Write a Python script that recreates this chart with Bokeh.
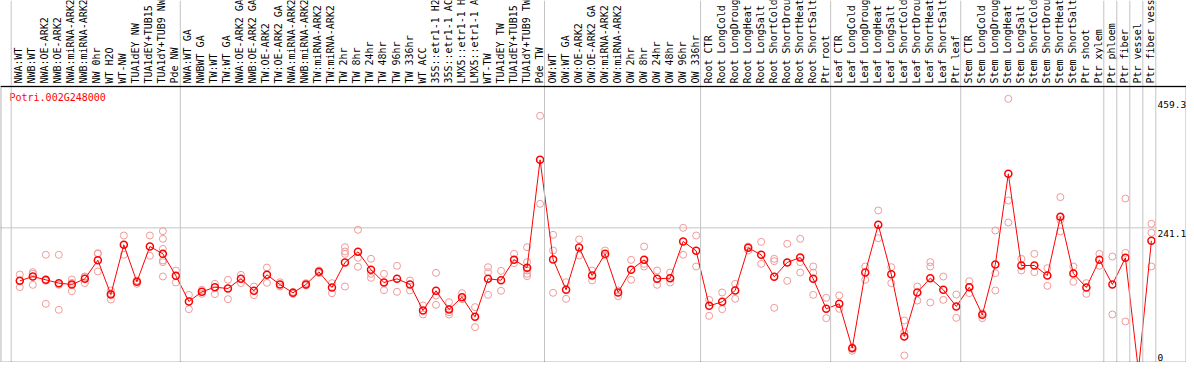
import math
from bokeh.plotting import figure
from bokeh.models import Range1d, Span, BoxAnnotation
from bokeh.core.properties import value
from bokeh.embed import file_html
from bokeh.resources import INLINE

gene = "Potri.002G248000"

samples = [
    "NWA:WT", "NWB:WT", "NWA:OE-ARK2", "NWB:OE-ARK2", "NWA:miRNA-ARK2", "NWB:miRNA-ARK2",
    "NW 0hr", "WT H2O", "WT-NW", "TUA1dEY NW", "TUA1dEY+TUB15 NW", "TUA1dY+TUB9 NW", "Pde NW",
    "NWA:WT GA", "NWBWT GA", "TW:WT", "TW:WT GA", "NWA:OE-ARK2 GA", "NWB:OE-ARK2 GA",
    "TW:OE-ARK2", "TW:OE-ARK2 GA", "NWA:miRNA-ARK2 GA", "NWB:miRNA-ARK2 GA", "TW:miRNA-ARK2",
    "TW:miRNA-ARK2 GA", "TW 2hr", "TW 8hr", "TW 24hr", "TW 48hr", "TW 96hr", "TW 336hr", "WT ACC",
    "35S::etr1-1 H2O", "35S::etr1-1 ACC", "LMX5::etr1-1 H2O", "LMX5::etr1-1 ACC", "WT-TW",
    "TUA1dEY TW", "TUA1dEY+TUB15 TW", "TUA1dY+TUB9 TW", "Pde TW",
    "OW:WT", "OW:WT GA", "OW:OE-ARK2", "OW:OE-ARK2 GA", "OW:miRNA-ARK2", "OW:miRNA-ARK2 GA",
    "OW 2hr", "OW 8hr", "OW 24hr", "OW 48hr", "OW 96hr", "OW 336hr",
    "Root CTR", "Root LongCold", "Root LongDrought", "Root LongHeat", "Root LongSalt",
    "Root ShortCold", "Root ShortDrought", "Root ShortHeat", "Root ShortSalt", "Ptr root",
    "Leaf CTR", "Leaf LongCold", "Leaf LongDrought", "Leaf LongHeat", "Leaf LongSalt",
    "Leaf ShortCold", "Leaf ShortDrought", "Leaf ShortHeat", "Leaf ShortSalt", "Ptr leaf",
    "Stem CTR", "Stem LongCold", "Stem LongDrought", "Stem LongHeat", "Stem LongSalt",
    "Stem ShortCold", "Stem ShortDrought", "Stem ShortHeat", "Stem ShortSalt", "Ptr shoot",
    "Ptr xylem", "Ptr phloem", "Ptr fiber", "Ptr vessel", "Ptr fiber vessel",
]

group_sizes = [13, 28, 12, 10, 10, 11, 1, 1, 1, 1]

means = [
    151.6, 158.9, 153.3, 147.7, 145.4, 155.0, 186.5, 128.5, 212.5, 149.9, 209.6, 197.2, 160.1,
    116.7, 133.0, 140.9, 138.6, 155.0, 134.7, 161.7, 145.4, 131.3, 145.4, 166.8, 140.3, 182.6,
    200.6, 170.2, 148.8, 155.0, 145.4, 101.4, 134.7, 103.1, 124.0, 90.7, 155.0, 152.7, 187.1,
    173.6, 356.2,
    187.7, 136.4, 208.0, 160.6, 197.2, 131.9, 170.2, 187.1, 155.0, 156.1, 218.1, 202.3,
    109.3, 116.1, 135.3, 207.4, 195.6, 158.4, 182.6, 191.1, 155.0, 104.3,
    112.7, 37.8, 165.7, 246.3, 162.9, 57.5, 131.9, 156.1, 136.4, 108.2,
    140.9, 94.1, 179.2, 332.5, 177.5, 177.5, 160.6, 259.8, 164.0, 140.3, 187.1,
    145.4, 190.5, 0.0, 219.2,
]

replicates = [
    [162.3, 151.6, 140.9], [166.3, 163.4, 144.8], [195.6, 151.6, 112.7], [195.6, 144.9, 102.6],
    [153.9, 148.2, 134.1], [158.9, 158.4, 147.7], [198.4, 197.2, 167.4], [135.3, 130.2, 120.0],
    [228.2, 195.6], [152.2, 146.5], [228.2, 193.9], [235.6, 222.6, 205.7, 186.0, 183.2, 158.9],
    [169.1, 148.8],
    [127.9, 103.7], [136.4, 129.6], [146.5, 129.1], [153.3, 120.6], [161.7, 147.7],
    [142.0, 127.4], [174.1, 148.2], [149.3, 142.0], [133.0, 129.6], [147.7, 143.7],
    [169.1, 164.6], [147.7, 130.7], [208.5, 201.2, 197.2, 142.0], [237.8, 190.5, 175.3],
    [188.8, 163.4, 156.7], [163.4, 135.8], [177.0, 133.0], [152.2, 135.3], [109.9, 94.7],
    [165.1, 126.8, 111.0], [115.5, 98.6, 94.7], [130.7, 120.6], [107.1, 73.3],
    [174.7, 166.3, 127.9], [168.5, 134.7], [197.2, 181.5],
    [208.5, 183.2, 169.1, 163.4, 159.5], [430.6, 281.8],
    [229.4, 202.9, 131.3], [149.3, 121.2], [221.5, 194.4], [169.1, 152.2], [202.9, 194.4],
    [135.3, 125.7], [187.1, 153.3], [209.6, 180.3, 175.8], [169.1, 144.8], [165.7, 148.8],
    [241.2, 195.6], [228.2, 175.8],
    [119.5, 92.4], [131.9, 103.7], [146.5, 121.2], [209.6, 202.9], [217.5, 180.3],
    [188.8, 184.8, 106.0], [214.2, 151.6], [222.6, 183.2, 165.7], [175.8, 165.1, 127.9],
    [122.9, 88.5],
    [126.8, 104.3], [39.4, 33.3], [175.8, 153.3], [270.5, 223.7], [174.7, 147.7],
    [84.5, 64.8, 25.4], [142.0, 118.3], [183.2, 175.8, 115.0], [158.9, 119.5], [128.5, 89.0],
    [151.0, 140.9, 130.8], [96.9, 88.5], [236.7, 164.6, 135.3], [459.3, 287.4, 250.2],
    [188.8, 169.1], [197.2, 166.3], [173.0, 143.1], [293.1, 254.7, 235.0], [175.8, 149.9],
    [147.7, 129.6], [197.2, 177.0],
    [192.7, 94.7], [290.8, 198.9, 82.8], [0.0, 0.0, 0.0], [248.0, 232.8, 175.8],
]

y_tick_values = [0, 241.1, 459.3]
y_tick_labels = ["0", "241.1", "459.3"]

# ---- layout (pixels inside the figure) ----
W, H = 1186, 362
step = 13.007          # px between samples
x_first = 19.3         # px of first sample
y_zero = 370.0         # px where value 0 lies
ppu = 0.5915           # px per unit of expression


def px_x(px):
    return (px - x_first) / step


def px_y(py):
    return (y_zero - py) / ppu


n = len(samples)
idx = list(range(n))

p = figure(width=W, height=H, output_backend="svg", toolbar_location=None,
           x_axis_type=None, y_axis_type=None, min_border=0,
           x_range=Range1d(px_x(0), px_x(W)),
           y_range=Range1d(px_y(H), px_y(0)))
p.grid.visible = False
p.outline_line_color = None
p.background_fill_color = "white"
p.border_fill_color = "white"

mono = value("DejaVu Sans Mono")
header_y = px_y(86)

# group separators
bounds = [0]
for g in group_sizes:
    bounds.append(bounds[-1] + g)
for b in bounds:
    p.add_layout(Span(location=b - 8.6 / step, dimension="height",
                      line_color="#c4c4c4", line_width=1))

# horizontal reference line at the middle tick
p.segment(x0=[p.x_range.start], x1=[px_x(1156)], y0=[y_tick_values[1]], y1=[y_tick_values[1]],
          line_color="#c4c4c4", line_width=1)

# box around the plot area
p.add_layout(BoxAnnotation(top=header_y, fill_alpha=0, fill_color=None,
                           line_color="black", line_width=2))
p.add_layout(Span(location=header_y, dimension="width", line_color="black", line_width=1))

# sample labels
p.text(x=idx, y=[px_y(83)] * n, text=samples, angle=math.pi / 2,
       text_align="left", text_baseline="middle", x_offset=-1,
       text_font=mono, text_font_size="10px", text_color="black")

# replicates
rx, ry = [], []
for i, reps in enumerate(replicates):
    for r in reps:
        rx.append(i)
        ry.append(r)
p.scatter(rx, ry, marker="circle", size=7, fill_color=None,
          line_color="#f09a9a", line_width=1)

# mean line + points
p.line(idx, means, line_color="red", line_width=1)
p.scatter(idx, means, marker="circle", size=7, fill_color=None,
          line_color="red", line_width=1.5)

# title
p.text(x=[px_x(9)], y=[px_y(91)], text=[gene], text_align="left", text_baseline="top",
       text_font=mono, text_font_size="10px", text_color="red")

# y tick labels (inside the box, right)
tx = px_x(1157)
p.text(x=[tx, tx], y=y_tick_values[1:], text=y_tick_labels[1:], text_align="left",
       text_baseline="top", y_offset=2, text_font=mono, text_font_size="9.5px",
       text_color="black")
p.text(x=[tx], y=[p.y_range.start], text=y_tick_labels[:1], text_align="left",
       text_baseline="bottom", y_offset=-2, text_font=mono, text_font_size="9.5px",
       text_color="black")

open("out.html", "w").write(file_html(p, INLINE))
